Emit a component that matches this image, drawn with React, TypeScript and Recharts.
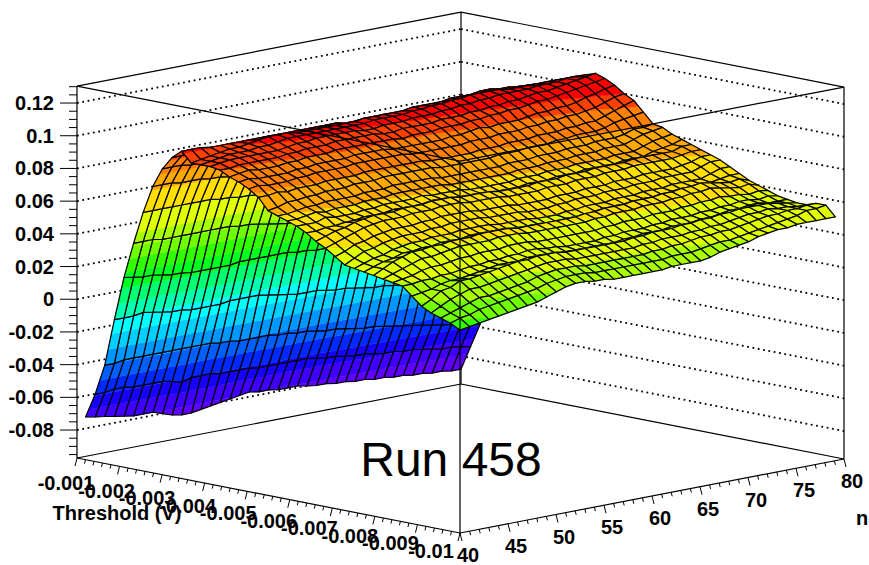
import React from 'react';
import { ScatterChart, Scatter, XAxis, YAxis } from 'recharts';

const W = 869;
const H = 565;
const FONT = '"Liberation Sans", Arial, sans-serif';

// rows are n bins (40..80), columns are threshold bins (-0.001..-0.01), values in 1e-3
const surfaceRows: number[][] = [
  [-72,-57,-38,-9,18,40,60,77,89,97,102,96,96,96,95,92,90,87,83,76,74,72,70,67,63,60,56,52,51,50,49,48,47,46,41,36,33,31,29,26],
  [-73,-57,-38,-9,17,40,60,77,89,97,102,97,97,97,95,93,91,88,83,77,74,72,70,67,65,62,58,55,53,52,52,50,48,46,42,39,36,33,31,27],
  [-74,-56,-37,-9,16,40,60,77,89,97,102,98,98,98,96,94,90,87,84,79,75,73,70,68,67,64,61,58,55,54,55,52,49,47,43,43,39,35,32,28],
  [-75,-56,-37,-8,16,39,60,76,88,96,101,99,99,98,96,93,90,87,83,79,76,74,72,68,68,66,62,59,56,55,57,54,51,47,45,44,41,37,34,29],
  [-76,-57,-37,-9,15,39,60,76,88,96,101,100,99,98,96,93,90,87,84,80,76,73,71,69,70,68,64,61,58,57,59,56,52,48,46,47,43,39,35,30],
  [-77,-57,-37,-10,14,39,60,76,88,96,101,100,99,98,96,93,90,88,84,80,77,74,71,69,71,69,65,62,59,57,59,56,52,48,46,47,43,39,36,31],
  [-77,-57,-37,-11,14,39,60,75,87,96,101,101,100,98,96,94,91,88,84,81,77,74,71,70,72,70,66,63,60,58,60,57,53,49,47,48,44,40,37,32],
  [-77,-57,-37,-11,13,39,60,75,87,96,101,102,100,98,97,94,91,89,85,81,77,74,72,70,72,70,66,63,60,58,60,58,54,50,48,49,45,41,38,33],
  [-79,-58,-37,-12,13,39,59,74,87,95,101,103,101,99,97,95,92,89,85,81,77,75,72,70,72,70,66,63,61,59,61,59,54,50,49,50,46,42,39,34],
  [-81,-60,-37,-12,13,39,59,73,86,95,101,103,102,100,98,95,92,89,85,82,78,75,73,71,73,71,67,64,61,59,61,59,55,51,50,51,47,43,40,36],
  [-82,-58,-37,-12,13,39,58,73,86,95,101,103,102,100,98,95,92,89,85,82,78,75,73,71,73,71,67,64,61,59,61,59,55,51,50,52,48,45,42,38],
  [-82,-58,-37,-12,13,38,58,73,86,95,101,102,102,101,98,96,92,90,86,82,78,76,73,71,73,71,68,65,62,60,62,59,55,52,50,52,49,46,43,40],
  [-81,-58,-38,-11,14,38,57,72,86,95,101,102,102,101,99,96,93,90,86,83,79,76,73,71,74,72,68,65,62,60,62,60,56,52,51,53,50,47,44,41],
  [-80,-59,-38,-11,14,37,57,72,85,94,101,102,102,101,99,96,93,90,86,83,79,76,74,72,74,72,68,65,62,60,62,60,56,53,51,53,50,47,44,41],
  [-79,-59,-39,-11,14,36,56,71,85,94,101,102,102,101,99,96,93,90,86,83,79,76,73,72,74,72,68,65,62,60,62,60,56,53,51,53,50,47,44,40],
  [-78,-59,-39,-11,14,35,56,71,85,94,101,102,102,101,99,96,93,90,86,83,79,76,73,71,73,71,67,64,61,59,61,59,55,52,50,52,49,46,43,40],
  [-77,-59,-39,-12,14,34,56,71,84,94,101,102,102,100,99,96,92,90,86,83,79,76,73,71,73,71,67,64,61,59,61,59,55,52,50,52,49,46,43,39],
  [-76,-60,-39,-13,14,34,55,70,84,93,100,102,102,100,98,96,92,89,86,83,78,75,73,71,73,71,67,64,61,59,61,59,55,51,50,52,49,46,43,39],
  [-77,-60,-40,-14,13,33,55,70,84,93,100,103,103,101,98,95,92,89,85,82,78,75,72,71,73,71,67,64,61,59,61,59,55,51,50,52,49,46,43,39],
  [-77,-60,-40,-15,13,33,54,69,83,93,100,103,103,101,99,96,92,89,85,82,78,75,72,70,72,70,66,63,60,58,61,59,55,51,50,52,49,46,43,39],
  [-78,-60,-41,-15,12,32,54,69,83,93,100,103,103,101,99,96,92,89,85,82,78,75,72,70,72,70,66,63,60,58,61,59,55,51,50,52,49,46,43,39],
  [-78,-60,-41,-15,12,31,53,68,83,92,100,103,103,102,99,96,92,89,85,82,78,75,72,70,72,70,66,63,60,59,61,59,55,52,50,52,49,46,43,39],
  [-78,-60,-42,-16,11,30,52,68,82,92,100,103,104,102,99,97,93,89,85,82,78,75,72,70,72,70,66,64,61,59,62,60,56,52,51,53,50,47,43,40],
  [-79,-61,-43,-17,11,30,51,67,82,92,100,104,104,102,100,97,93,90,86,82,78,75,73,71,73,71,67,64,61,59,62,60,56,53,51,53,50,47,44,40],
  [-80,-62,-43,-17,10,29,51,67,81,92,101,104,105,103,100,97,94,90,86,83,79,76,73,71,73,71,67,65,62,60,63,61,57,53,52,54,51,48,44,40],
  [-80,-62,-44,-18,9,28,50,66,81,92,101,104,105,103,100,98,95,90,86,83,79,76,73,71,73,71,67,65,62,60,63,61,57,53,52,54,51,48,44,40],
  [-81,-63,-45,-19,8,28,50,66,81,92,101,104,106,104,101,98,94,91,87,83,79,76,74,72,74,72,68,65,62,61,63,61,57,54,52,54,51,49,45,41],
  [-81,-64,-46,-20,7,27,49,65,80,92,101,105,106,104,101,99,95,91,87,84,80,77,74,72,74,72,68,66,63,61,64,62,58,54,53,55,52,50,46,43],
  [-82,-64,-46,-20,7,27,49,65,80,92,101,105,107,105,102,99,95,91,87,84,80,77,74,72,74,72,68,66,63,61,64,62,58,55,53,55,52,50,47,44],
  [-82,-65,-47,-21,6,26,48,64,80,92,101,105,107,105,102,100,95,92,88,84,80,77,75,73,75,73,69,66,63,62,64,62,58,55,53,56,53,51,47,45],
  [-83,-66,-48,-22,5,25,47,64,80,92,101,106,107,106,103,100,96,92,88,85,81,78,75,73,75,73,69,67,64,62,65,63,59,55,54,56,53,51,48,46],
  [-83,-66,-49,-23,4,24,47,64,79,92,101,106,107,106,103,101,97,93,88,85,81,78,75,73,75,73,69,67,64,62,65,63,59,56,54,57,54,52,49,48],
  [-84,-67,-50,-24,3,23,46,63,79,92,101,105,106,106,104,102,97,93,89,86,81,78,75,73,75,74,70,67,64,63,66,64,60,56,55,57,55,53,50,49],
  [-84,-67,-51,-25,2,23,45,63,79,92,102,105,106,106,105,102,98,94,89,86,82,79,76,74,76,74,70,68,65,63,66,64,60,57,56,58,56,54,51,50],
  [-85,-68,-52,-25,2,22,45,62,78,92,102,104,106,107,105,103,98,94,90,86,82,79,76,74,76,74,70,68,65,64,67,65,61,57,56,58,56,55,52,50],
  [-85,-69,-53,-26,1,21,44,62,78,92,102,104,106,107,106,104,99,95,90,87,82,79,76,74,76,74,70,68,65,64,66,64,60,58,57,58,57,55,53,51],
  [-86,-70,-54,-27,0,20,43,61,78,91,101,103,106,107,107,105,101,96,92,89,83,81,78,76,76,74,71,68,65,64,65,63,60,58,57,58,56,56,54,51],
  [-86,-70,-55,-28,-1,19,42,61,77,91,101,103,106,108,108,106,102,98,94,90,85,83,80,77,76,75,72,70,67,65,64,62,59,57,56,57,56,56,56,51],
  [-87,-71,-56,-29,-2,18,41,60,77,91,100,102,106,108,109,107,104,100,96,91,85,84,81,78,78,76,74,72,69,66,65,63,60,58,56,56,55,57,56,51],
  [-87,-72,-57,-30,-3,17,40,60,77,91,100,102,106,108,110,108,105,101,98,92,86,85,82,80,78,76,74,72,69,66,63,61,59,57,56,55,55,57,57,51],
];

const zMajorTicks = [0.12, 0.1, 0.08, 0.06, 0.04, 0.02, 0, -0.02, -0.04, -0.06, -0.08];
const zLabels = ['0.12', '0.1', '0.08', '0.06', '0.04', '0.02', '0', '-0.02', '-0.04', '-0.06', '-0.08'];
const thresholdTicks = [-0.001, -0.002, -0.003, -0.004, -0.005, -0.006, -0.007, -0.008, -0.009, -0.01];
const thresholdLabels = ['-0.001', '-0.002', '-0.003', '-0.004', '-0.005', '-0.006', '-0.007', '-0.008', '-0.009', '-0.01'];
const nTicks = [40, 45, 50, 55, 60, 65, 70, 75, 80];
const nLabels = ['40', '45', '50', '55', '60', '65', '70', '75', '80'];

// contour edges between the colour bands
const bandEdges = [
  -0.077, -0.067, -0.058, -0.048, -0.038, -0.028, -0.018, -0.008, 0.001, 0.011,
  0.021, 0.030, 0.038, 0.047, 0.060, 0.0745, 0.085, 0.095, 0.101,
];
const bandColors = [
  '#6000ff', '#4000ff', '#1800ff', '#0028ff', '#0060ff', '#0098ff', '#00d0ff', '#00ffff', '#00ffb0', '#00ff70',
  '#00ff20', '#30ff00', '#70ff00', '#a8ff00', '#e0ff00', '#ffe000', '#ffa800', '#ff8000', '#ff4000', '#ff0000',
];

// box view: v is 0 at threshold -0.01 and 1 at -0.001, u is 0 at n=40 and 1 at n=80
const Z_MIN = -0.0971;
const binOffset = 0.0112;
const project = (u: number, v: number, z: number) => ({
  px: 460 + 384 * u - 383 * v,
  py: 533 - 74 * u - 75 * v - (z - Z_MIN) * 1635,
});
const uOfN = (n: number) => (n - 40) / 40;
const vOfT = (t: number) => (t + 0.01) / 0.009;
const Z_TOP = 0.1304;

type Seg = { px: number; py: number };
const seg = (out: Seg[], a: Seg, b: Seg) => { out.push(a, b); };

const frameBack: Seg[] = [];
seg(frameBack, project(0, 1, Z_MIN), project(1, 1, Z_MIN));
seg(frameBack, project(1, 1, Z_MIN), project(1, 0, Z_MIN));
seg(frameBack, project(0, 1, Z_TOP), project(1, 1, Z_TOP));
seg(frameBack, project(1, 1, Z_TOP), project(1, 0, Z_TOP));
seg(frameBack, project(1, 1, Z_MIN), project(1, 1, Z_TOP));
seg(frameBack, project(0, 1, Z_MIN), project(0, 1, Z_TOP));
seg(frameBack, project(1, 0, Z_MIN), project(1, 0, Z_TOP));

const gridDots: Seg[] = [];
zMajorTicks.forEach((z) => {
  seg(gridDots, project(0, 1, z), project(1, 1, z));
  seg(gridDots, project(1, 1, z), project(1, 0, z));
});

const frameFront: Seg[] = [];
seg(frameFront, project(0, 0, Z_MIN), project(0, 0, Z_TOP));
seg(frameFront, project(0, 1, Z_TOP), project(0, 0, Z_TOP));
seg(frameFront, project(0, 0, Z_TOP), project(1, 0, Z_TOP));
seg(frameFront, project(0, 1, Z_MIN), project(0, 0, Z_MIN));
seg(frameFront, project(0, 0, Z_MIN), project(1, 0, Z_MIN));

const shift = (p: Seg, dx: number, dy: number): Seg => ({ px: p.px + dx, py: p.py + dy });
const tickMarks: Seg[] = [];
for (let k = 0; k <= 45; k++) {
  const z = -0.095 + k * 0.005;
  if (z > Z_TOP) break;
  const a = project(0, 1, z);
  const major = k % 4 === 3;
  seg(tickMarks, a, shift(a, major ? -17 : -8, 0));
}
for (let k = 0; k <= 45; k++) {
  const a = project(0, 1 - k / 45, Z_MIN);
  const major = k % 5 === 0;
  seg(tickMarks, a, shift(a, major ? -2 : -1, major ? 8 : 4));
}
for (let k = 0; k <= 40; k++) {
  const a = project(k / 40, 0, Z_MIN);
  const major = k % 5 === 0;
  seg(tickMarks, a, shift(a, major ? 2 : 1, major ? 8 : 4));
}

const zTickText = zLabels.map((label, k) => ({ ...project(0, 1, zMajorTicks[k]), label }));
const thresholdText = thresholdLabels.map((label, k) => {
  const p = project(0, vOfT(thresholdTicks[k]), Z_MIN);
  return { px: p.px - 11 - 2 * k, py: p.py + 25 - 0.8 * k, label };
});
const nText = nLabels.map((label, k) => {
  const p = project(uOfN(nTicks[k]), 0, Z_MIN);
  return { px: p.px + 8, py: p.py + 22, label };
});
const axisTitles = [
  { px: 117, py: 513, label: 'Threshold (V)' },
  { px: 862, py: 518, label: 'n' },
];
const runTitle = [{ px: 451, py: 459, label: 'Run 458' }];

// split each mesh cell at the contour levels, painted from the far corner to the near one
type V3 = { u: number; v: number; z: number };
const nBins = surfaceRows.length;
const tBins = surfaceRows[0].length;
const gridU = (i: number) => binOffset + (i * (1 - 2 * binOffset)) / (nBins - 1);
const gridV = (t: number) => 1 - binOffset - (t * (1 - 2 * binOffset)) / (tBins - 1);

const clipBand = (poly: V3[], level: number, keepAbove: boolean): V3[] => {
  const out: V3[] = [];
  poly.forEach((a, k) => {
    const b = poly[(k + 1) % poly.length];
    const ina = keepAbove ? a.z >= level : a.z <= level;
    const inb = keepAbove ? b.z >= level : b.z <= level;
    if (ina) out.push(a);
    if (ina !== inb) {
      const f = (level - a.z) / (b.z - a.z);
      out.push({ u: a.u + f * (b.u - a.u), v: a.v + f * (b.v - a.v), z: level });
    }
  });
  return out;
};

const meshPoints: Seg[] = [];
const meshPolys: { size: number; fill: string; outline: boolean }[] = [];
for (let i = nBins - 2; i >= 0; i--) {
  for (let t = 0; t < tBins - 1; t++) {
    const cell: V3[] = [
      { u: gridU(i), v: gridV(t), z: surfaceRows[i][t] / 1000 },
      { u: gridU(i + 1), v: gridV(t), z: surfaceRows[i + 1][t] / 1000 },
      { u: gridU(i + 1), v: gridV(t + 1), z: surfaceRows[i + 1][t + 1] / 1000 },
      { u: gridU(i), v: gridV(t + 1), z: surfaceRows[i][t + 1] / 1000 },
    ];
    bandColors.forEach((fill, b) => {
      let part = cell;
      if (b > 0) part = clipBand(part, bandEdges[b - 1], true);
      if (b < bandColors.length - 1 && part.length) part = clipBand(part, bandEdges[b], false);
      if (part.length < 3) return;
      part.forEach((p) => meshPoints.push(project(p.u, p.v, p.z)));
      meshPolys.push({ size: part.length, fill, outline: false });
    });
    cell.forEach((p) => meshPoints.push(project(p.u, p.v, p.z)));
    meshPolys.push({ size: 4, fill: 'none', outline: true });
  }
}

const noDot = () => <g />;

const renderMesh = (props: any) => {
  const pts = props.points as { x: number; y: number }[];
  let at = 0;
  return (
    <g>
      {meshPolys.map((poly, k) => {
        const d = pts.slice(at, at + poly.size).map((p) => `${p.x.toFixed(1)},${p.y.toFixed(1)}`).join(' ');
        at += poly.size;
        return (
          <polygon
            key={k}
            points={d}
            fill={poly.fill}
            stroke={poly.outline ? '#000' : poly.fill}
            strokeWidth={poly.outline ? 1.25 : 0.4}
            strokeLinejoin="round"
          />
        );
      })}
    </g>
  );
};

const renderSegments = (stroke: string, width: number, dash?: string) => (props: any) => {
  const pts = props.points as { x: number; y: number }[];
  let d = '';
  for (let k = 0; k + 1 < pts.length; k += 2) {
    d += `M${pts[k].x} ${pts[k].y}L${pts[k + 1].x} ${pts[k + 1].y}`;
  }
  return <path d={d} fill="none" stroke={stroke} strokeWidth={width} strokeDasharray={dash} />;
};

const textShape = (size: number, weight: string, anchor: string, dx = 0) => (props: any) => (
  <text
    x={props.cx + dx}
    y={props.cy}
    fontFamily={FONT}
    fontSize={size}
    fontWeight={weight}
    textAnchor={anchor}
    dominantBaseline="central"
    fill="#000"
  >
    {props.payload.label}
  </text>
);

export default function App() {
  return (
    <div style={{ position: 'absolute', left: 0, top: 0, width: W, height: H, background: '#fff' }}>
      <ScatterChart width={W} height={H} margin={{ top: 0, right: 0, bottom: 0, left: 0 }}>
        <XAxis type="number" dataKey="px" domain={[0, W]} hide allowDataOverflow />
        <YAxis type="number" dataKey="py" domain={[0, H]} reversed hide allowDataOverflow />
        <Scatter data={gridDots} shape={noDot} line={renderSegments('#000', 1.8, '1.8 3.6')} isAnimationActive={false} />
        <Scatter data={frameBack} shape={noDot} line={renderSegments('#000', 1.2)} isAnimationActive={false} />
        <Scatter data={meshPoints} shape={noDot} line={renderMesh} isAnimationActive={false} />
        <Scatter data={frameFront} shape={noDot} line={renderSegments('#000', 1.2)} isAnimationActive={false} />
        <Scatter data={tickMarks} shape={noDot} line={renderSegments('#000', 1)} isAnimationActive={false} />
        <Scatter data={zTickText} shape={textShape(20, 'bold', 'end', -23)} isAnimationActive={false} />
        <Scatter data={thresholdText} shape={textShape(20, 'bold', 'middle')} isAnimationActive={false} />
        <Scatter data={nText} shape={textShape(20, 'bold', 'middle')} isAnimationActive={false} />
        <Scatter data={axisTitles} shape={textShape(20, 'bold', 'middle')} isAnimationActive={false} />
        <Scatter data={runTitle} shape={textShape(48, 'normal', 'middle')} isAnimationActive={false} />
      </ScatterChart>
    </div>
  );
}
